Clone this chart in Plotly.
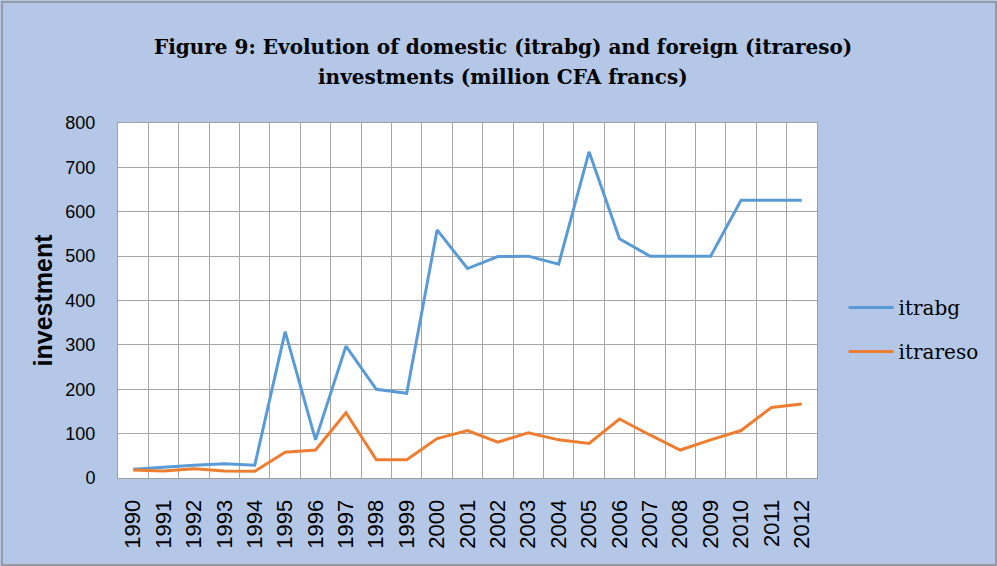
import plotly.graph_objects as go

years = list(range(1990, 2013))
itrabg = [20, 25, 29, 32, 29, 330, 86, 297, 200, 191, 559, 472, 499, 500, 482, 735, 539, 500, 500, 500, 626, 626, 626]
itrareso = [18, 16, 21, 16, 15, 58, 63, 147, 41, 41, 89, 107, 81, 102, 86, 78, 133, 97, 63, 86, 107, 159, 167]
y_ticks = [0, 100, 200, 300, 400, 500, 600, 700, 800]
title_lines = ["Figure 9: Evolution of domestic (itrabg) and foreign (itrareso)",
               "investments (million CFA francs)"]

fig = go.Figure()
fig.add_trace(go.Scatter(x=years, y=itrabg, mode="lines", name="itrabg",
                         line=dict(color="#5B9BD5", width=3), legendgroup="a"))
fig.add_trace(go.Scatter(x=years, y=itrareso, mode="lines", name="itrareso",
                         line=dict(color="#ED7D31", width=3), legendgroup="b"))

serif = "DejaVu Serif, Liberation Serif, serif"
sans = "Liberation Sans, Arial, sans-serif"

fig.update_layout(
    width=997, height=566,
    paper_bgcolor="#B4C7E7", plot_bgcolor="white",
    margin=dict(l=118, r=180, t=123, b=88),
    legend=dict(x=1.038, xanchor="left", y=0.535, yanchor="top",
                font=dict(family=serif, size=20, color="black"),
                bgcolor="rgba(0,0,0,0)", tracegroupgap=15, traceorder="grouped", itemwidth=45),
    showlegend=True,
)
for txt, yp in zip(title_lines, [(478 - 47) / 355, (478 - 77) / 355]):
    fig.add_annotation(text="<b>" + txt + "</b>", xref="paper", yref="paper", x=0.5515, y=yp,
                       xanchor="center", yanchor="middle", showarrow=False,
                       font=dict(family=serif, size=20, color="black"))
fig.update_xaxes(
    range=[1989.5, 2012.5], tickmode="array", tickvals=years, ticktext=[str(y) for y in years],
    tickangle=-90, tickfont=dict(family=sans, size=22, color="black"),
    showgrid=False, ticks="outside", ticklen=12, tickcolor="rgba(0,0,0,0)",
    showline=True, linecolor="#9E9E9E", linewidth=1, mirror=True,
    minor=dict(tick0=1989.5, dtick=1, showgrid=True, gridcolor="#A6A6A6", gridwidth=1),
    zeroline=False,
)
fig.update_yaxes(
    range=[0, 800], tickmode="array", tickvals=y_ticks,
    tickfont=dict(family=sans, size=18, color="black"),
    showgrid=True, gridcolor="#A6A6A6", gridwidth=1, ticks="outside", ticklen=18, tickcolor="rgba(0,0,0,0)",
    showline=True, linecolor="#9E9E9E", linewidth=1, mirror=True, zeroline=False,
    title=dict(text="<b>investment</b>", font=dict(family=sans, size=25, color="black"), standoff=5),
)
fig.add_shape(type="rect", xref="paper", yref="paper", x0=-116/699, x1=1 + 179/699, y0=-87/355, y1=1 + 121/355,
              line=dict(color="#8C8C8C", width=1.5), fillcolor="rgba(0,0,0,0)", layer="above")
fig.write_html("out.html", config={"displayModeBar": False},
               post_script="document.body.style.margin='0';document.body.style.background='#B4C7E7';")
